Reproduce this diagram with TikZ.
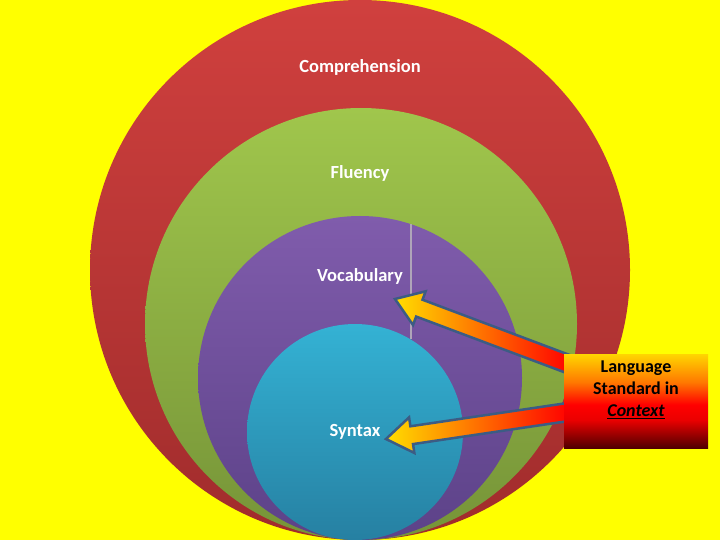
\documentclass[tikz,border=0pt]{standalone}
\usepackage{fontspec}
\setmainfont{Carlito}
\usetikzlibrary{calc}
\definecolor{bg}{RGB}{255,255,0}
\definecolor{redT}{RGB}{208,64,62}
\definecolor{redB}{RGB}{160,44,44}
\definecolor{grnT}{RGB}{160,198,76}
\definecolor{grnB}{RGB}{118,148,56}
\definecolor{purT}{RGB}{128,92,172}
\definecolor{purB}{RGB}{92,66,136}
\definecolor{bluT}{RGB}{52,178,212}
\definecolor{bluB}{RGB}{38,128,162}
\definecolor{arrEdge}{RGB}{60,92,132}
\definecolor{ayel}{RGB}{255,222,0}
\definecolor{aora}{RGB}{255,150,0}
\definecolor{ared}{RGB}{255,0,0}
\definecolor{bxdark}{RGB}{80,0,0}
\definecolor{bxred}{RGB}{235,0,0}
\definecolor{bxorange}{RGB}{255,120,0}
\definecolor{bxyellow}{RGB}{255,214,0}
\definecolor{vline}{RGB}{175,165,185}
\pgfdeclareverticalshading{boxshade}{100bp}{color(0bp)=(bxdark); color(25bp)=(bxdark); color(40bp)=(bxred); color(48bp)=(ared); color(60bp)=(bxorange); color(75bp)=(bxyellow); color(100bp)=(bxyellow)}
\newcommand\fatarrow[2]{%
  \shade[fatarr] let \p1=($(#1)-(#2)$), \n1={atan2(\y1,\x1)} in
    (#2) -- ($(#2)+(\n1:26pt)+(\n1+90:18pt)$) -- ($(#2)+(\n1:26pt)+(\n1+90:9pt)$)
    -- ($(#1)+(\n1+90:9pt)$) -- ($(#1)+(\n1-90:9pt)$)
    -- ($(#2)+(\n1:26pt)+(\n1-90:9pt)$) -- ($(#2)+(\n1:26pt)+(\n1-90:18pt)$) -- cycle;}
\begin{document}
\begin{tikzpicture}[x=1pt,y=-1pt,
  lbl/.style={text=white,font=\fontsize{18.5}{22}\selectfont\bfseries,inner sep=1pt},
  fatarr/.style={draw=arrEdge,line width=2.5pt,line join=miter,left color=ayel,middle color=aora,right color=ared},
  boxtext/.style={text=black,font=\fontsize{18}{22}\selectfont\bfseries,align=center}]
\useasboundingbox (0,0) rectangle (720,540);
\clip (0,0) rectangle (720,540);
\fill[bg] (0,0) rectangle (720,540);
% nested circles
\shade[top color=redT,bottom color=redB] (360,270) circle[radius=270];
\shade[top color=grnT,bottom color=grnB] (361,324) circle[radius=216];
\shade[top color=purT,bottom color=purB] (360,378) circle[radius=162];
\shade[top color=bluT,bottom color=bluB] (355,432) circle[radius=108];
% thin vertical line
\coordinate (vl1) at (411,224);
\coordinate (vl2) at (411,339);
\draw[vline,line width=1.2pt] (vl1) -- (vl2);
% labels
\node[lbl] (comp) at (360,67) {Comprehension};
\node[lbl] (flu) at (360,173) {Fluency};
\node[lbl] (voc) at (360,276) {Vocabulary};
\node[lbl] (syn) at (355,432) {Syntax};
% arrows
\coordinate (tipV) at (395,299);
\coordinate (tailV) at (568,364);
\coordinate (tipS) at (386,439);
\coordinate (tailS) at (568,412);
\fatarrow{tailV}{tipV}
\fatarrow{tailS}{tipS}
% box
\node[shading=boxshade,minimum width=144pt,minimum height=94pt,inner sep=0pt] (lsc) at (636,401) {};
\node[boxtext] (lsctext) at (636,390) {Language\\Standard in\\\textit{\underline{Context}}};
\end{tikzpicture}
\end{document}
